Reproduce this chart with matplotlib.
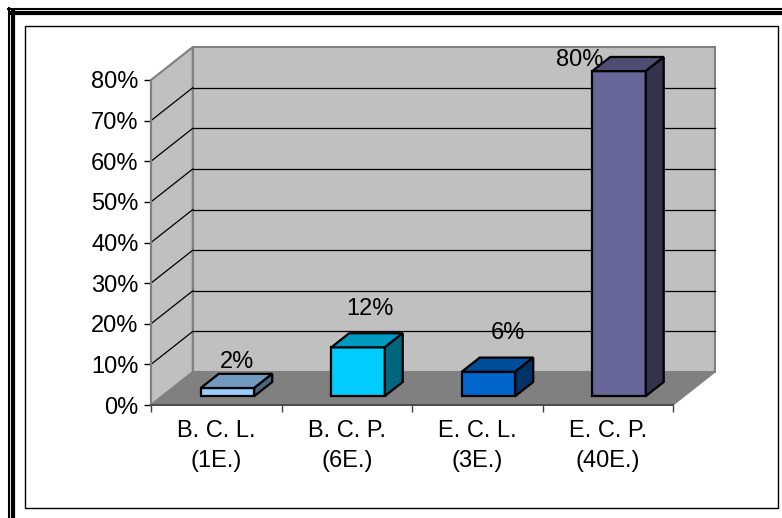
import matplotlib.pyplot as plt
import matplotlib.colors as mcolors
from matplotlib.patches import Polygon, Rectangle
from matplotlib.lines import Line2D

plt.rcParams['font.family'] = ['Liberation Sans', 'DejaVu Sans']

categories = ['B. C. L.\n(1E.)', 'B. C. P.\n(6E.)', 'E. C. L.\n(3E.)', 'E. C. P.\n(40E.)']
percents = [2, 12, 6, 80]
y_ticks = [0, 10, 20, 30, 40, 50, 60, 70, 80]

bar_colors = ['#99CCFF', '#00CCFF', '#0066CC', '#666699']
# label offsets from the top of each bar, in pixels
label_nudge = [(0, 12), (3, 24), (10, 25), (-48, -3)]

W, H = 782, 518
fig = plt.figure(figsize=(W / 100, H / 100), dpi=100)
fig.patch.set_facecolor('white')

ax = fig.add_axes([151 / W, (H - 405) / H, 522 / W, 325 / H])
ax.set_xlim(0, len(categories))
ax.set_ylim(0, 80)
ax.patch.set_visible(False)

# floor depth in data units
dep_x, dep_y = 0.32, 8.1
n = len(categories)
top = y_ticks[-1]
edge = '#808080'
wall = '#C0C0C0'
fs = 17


def poly(pts, fc, ec, lw, z):
    ax.add_patch(Polygon(pts, closed=True, facecolor=fc, edgecolor=ec,
                         linewidth=lw, zorder=z, clip_on=False, joinstyle='miter'))


# walls and floor
poly([(0, 0), (dep_x, dep_y), (dep_x, top + dep_y), (0, top)], wall, edge, 1.5, 1)
poly([(dep_x, dep_y), (n + dep_x, dep_y), (n + dep_x, top + dep_y), (dep_x, top + dep_y)],
     wall, edge, 1.5, 1)
poly([(0, 0), (n, 0), (n + dep_x, dep_y), (dep_x, dep_y)], '#808080', edge, 1.0, 1)

# gridlines on back wall and side wall
for v in y_ticks[1:-1]:
    ax.plot([dep_x, n + dep_x], [v + dep_y, v + dep_y], color='black', lw=0.9,
            zorder=1.5, clip_on=False)
for v in y_ticks[1:-1]:
    ax.plot([0, dep_x], [v, v + dep_y], color='black', lw=0.9, zorder=1.5, clip_on=False)

# 3D bars
bar_w = 0.41
f0, fd = 0.27, 0.43
for i, (v, c) in enumerate(zip(percents, bar_colors)):
    rgb = mcolors.to_rgb(c)
    top_c = tuple(k * 0.75 for k in rgb)
    side_c = tuple(k * 0.5 for k in rgb)
    x0 = i + 0.5 - bar_w / 2 + f0 * dep_x
    x1 = x0 + bar_w
    b = f0 * dep_y
    t = b + v
    ox, oy = fd * dep_x, fd * dep_y
    poly([(x0, b), (x1, b), (x1, t), (x0, t)], c, 'black', 1.6, 3)
    poly([(x0, t), (x1, t), (x1 + ox, t + oy), (x0 + ox, t + oy)], top_c, 'black', 1.6, 3)
    poly([(x1, b), (x1 + ox, b + oy), (x1 + ox, t + oy), (x1, t)], side_c, 'black', 1.6, 3)
    nx, ny = label_nudge[i]
    ax.annotate(f'{v}%', xy=(i + 0.5 + (f0 + fd / 2) * dep_x, t + oy),
                xytext=(nx * 0.72, ny * 0.72), textcoords='offset points',
                ha='center', va='center', fontsize=fs, zorder=5,
                annotation_clip=False)

# axes
for s in ['top', 'right']:
    ax.spines[s].set_visible(False)
ax.spines['left'].set_color(edge)
ax.spines['left'].set_linewidth(1.5)
ax.spines['bottom'].set_color('#404040')
ax.spines['bottom'].set_linewidth(1.2)
ax.spines['left'].set_zorder(2)
ax.spines['bottom'].set_zorder(2)

ax.set_yticks(y_ticks)
ax.set_yticklabels([f'{v}%' for v in y_ticks], fontsize=fs)
ax.tick_params(axis='y', length=5, width=1, color='black', pad=4)

ax.set_xticks(range(n + 1))
ax.set_xticklabels([])
ax.set_xticks([i + 0.5 for i in range(n)], minor=True)
ax.set_xticklabels(categories, minor=True, fontsize=fs, linespacing=1.45)
ax.tick_params(axis='x', which='major', length=5, width=1, color='#404040')
ax.tick_params(axis='x', which='minor', length=0, pad=11)


# frame around the chart
def fx(p):
    return p / W


def fy(p):
    return 1 - p / H


fig.add_artist(Line2D([fx(7.5), fx(W)], [fy(8.5), fy(8.5)], color='black', lw=1.5))
fig.add_artist(Line2D([fx(8.5), fx(8.5)], [fy(7.5), fy(H)], color='black', lw=1.5))
fig.add_artist(Line2D([fx(11), fx(W)], [fy(13.2), fy(13.2)], color='black', lw=3.0))
fig.add_artist(Line2D([fx(13.2), fx(13.2)], [fy(11), fy(H)], color='black', lw=3.0))
fig.add_artist(Rectangle((fx(25), fy(507.5)), fx(777.7) - fx(25), fy(25.5) - fy(507.5),
                         transform=fig.transFigure, fill=False, edgecolor='black', lw=1))

fig.savefig('out.png', dpi=100)
